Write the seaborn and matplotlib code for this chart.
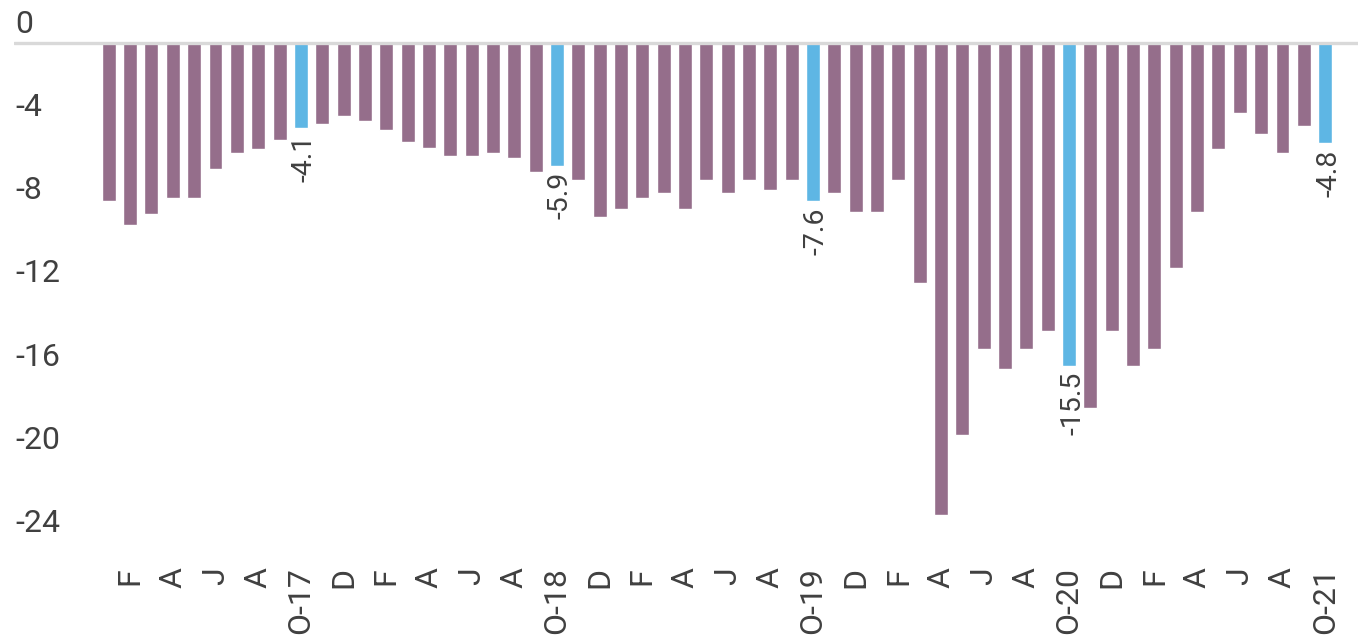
import matplotlib
matplotlib.use("Agg")
import matplotlib.pyplot as plt
import matplotlib.transforms as mtransforms
import seaborn as sns
import pandas as pd

# ---- data ----
months = [f"{y}-{m:02d}" for y in range(2017, 2022) for m in range(1, 13)][:58]
values = [-7.6, -8.75, -8.2, -7.45, -7.45, -6.05, -5.3, -5.1, -4.65, -4.1,
          -3.9, -3.5, -3.75, -4.15, -4.75, -5.05, -5.4, -5.4, -5.3, -5.5,
          -6.2, -5.9, -6.6, -8.35, -7.95, -7.45, -7.2, -7.95, -6.6, -7.2,
          -6.6, -7.05, -6.6, -7.6, -7.2, -8.1, -8.1, -6.6, -11.55, -22.7,
          -18.85, -14.7, -15.65, -14.7, -13.85, -15.5, -17.55, -13.85, -15.5, -14.7,
          -10.8, -8.1, -5.1, -3.35, -4.35, -5.3, -4.0, -4.8]
highlight = [m.endswith("-10") for m in months]
tick_labels = ["F", "A", "J", "A", "O-17", "D",
               "F", "A", "J", "A", "O-18", "D",
               "F", "A", "J", "A", "O-19", "D",
               "F", "A", "J", "A", "O-20", "D",
               "F", "A", "J", "A", "O-21"]
ytick_values = [0, -4, -8, -12, -16, -20, -24]
ytick_labels = ["0", "-4", "-8", "-12", "-16", "-20", "-24"]

PURPLE = "#956E8B"
BLUE = "#5EB6E4"
TEXT = "#404040"

df = pd.DataFrame({"month": months, "value": values,
                   "kind": ["oct" if h else "other" for h in highlight]})

sns.set_theme(style="white")
plt.rcParams["font.family"] = ["Roboto", "DejaVu Sans"]

W, H = 1358, 639
fig = plt.figure(figsize=(W / 100, H / 100), dpi=100)
ax_left, ax_right, ax_top, ax_bottom = 14, 1358, 0, 560
ax = fig.add_axes([ax_left / W, (H - ax_bottom) / H,
                   (ax_right - ax_left) / W, (ax_bottom - ax_top) / H])

sns.barplot(data=df, x="month", y="value", hue="kind", order=months,
            palette={"other": PURPLE, "oct": BLUE}, dodge=False,
            saturation=1, width=0.656, legend=False, ax=ax, zorder=2)

ax.axhline(0, color="#D9D9D9", lw=2.4, zorder=3)

zero_px = 43.2
px_per_unit = 20.8
ax.set_ylim(-(ax_bottom - zero_px) / px_per_unit, (zero_px - ax_top) / px_per_unit)
x0, dx = 108.8, 21.34
ax.set_xlim((ax_left - x0) / dx, (ax_right - x0) / dx)

for s in ax.spines.values():
    s.set_visible(False)
ax.set_xlabel("")
ax.set_ylabel("")

# x ticks
ax.set_xticks(list(range(1, 58, 2)))
ax.set_xticklabels(tick_labels, rotation=90, fontsize=23, color=TEXT)
ax.tick_params(axis="x", length=0, pad=5)

# y ticks: left-aligned, sitting above their values
ax.set_yticks(ytick_values)
ax.set_yticklabels(ytick_labels, fontsize=23, color=TEXT)
ax.tick_params(axis="y", length=0, pad=-1)
offset = mtransforms.ScaledTranslation(0, 10.5 / 100, fig.dpi_scale_trans)
for lab in ax.get_yticklabels():
    lab.set_horizontalalignment("left")
    lab.set_verticalalignment("baseline")
    lab.set_transform(lab.get_transform() + offset)

# labels on highlighted bars
for i, (v, h) in enumerate(zip(values, highlight)):
    if h:
        ax.annotate(f"{v:.1f}", xy=(i, v), xytext=(2.5, -4.5),
                    textcoords="offset points", rotation=90,
                    ha="center", va="top", fontsize=20.5, color=TEXT)

ax.grid(False)
fig.savefig("out.png", dpi=100)
